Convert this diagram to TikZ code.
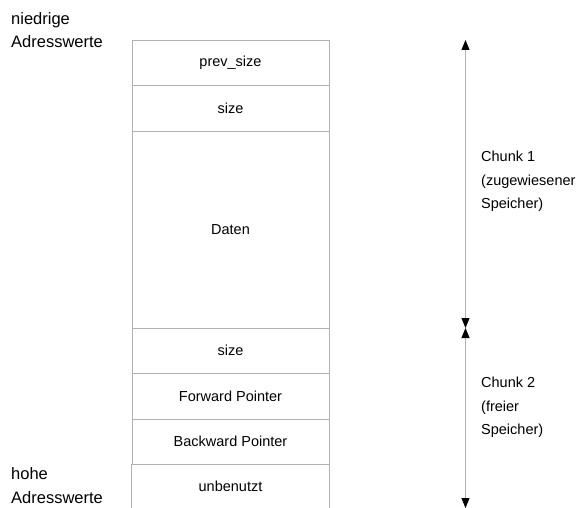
\documentclass[tikz,border=0pt]{standalone}
\usepackage{fontspec}
\setmainfont{Liberation Sans}
\usetikzlibrary{arrows.meta}
\begin{document}
\begin{tikzpicture}[x=1pt,y=-1pt,
  cell/.style={draw=black!30, line width=0.8pt, minimum width=197pt, inner sep=0pt,
               font=\fontsize{14.5}{17}\selectfont},
  sidelabel/.style={anchor=base west, align=left, inner sep=0pt,
               font=\fontsize{16.5}{23.5}\selectfont},
  chunklabel/.style={anchor=north west, align=left, inner sep=0pt,
               font=\fontsize{14.5}{23.5}\selectfont},
  span/.style={draw=black!30, line width=0.8pt,
               {Triangle[length=10pt,width=8pt,color=black]}-{Triangle[length=10pt,width=8pt,color=black]}}]
\useasboundingbox (0,0) rectangle (579,508);

% memory cells, top to bottom
\node[cell, minimum height=45pt]  (prev) at (230.5,62.5)  {prev\_size};
\node[cell, minimum height=46pt]  (sz1)  at (230.5,108)   {size};
\node[cell, minimum height=197pt] (data) at (230.5,229.5) {Daten};
\node[cell, minimum height=45pt]  (sz2)  at (230.5,350.5) {size};
\node[cell, minimum height=46pt]  (fwd)  at (230.5,396)   {Forward Pointer};
\node[cell, minimum height=45pt]  (bwd)  at (230.5,441.5) {Backward Pointer};
% last cell runs off the bottom edge: only its sides are drawn
\node[cell, draw=none, minimum height=44pt] (unused) at (230.5,486) {unbenutzt};
\draw[black!30, line width=0.8pt] (unused.north west) -- (unused.south west)
                                  (unused.north east) -- (unused.south east);

% address direction labels (anchored at the baseline of the last line)
\node[sidelabel] (low)  at (11,48)  {niedrige\\Adresswerte};
\node[sidelabel] (high) at (11,503) {hohe\\Adresswerte};

% chunk extents
\coordinate (c1top) at (465.5,40);
\coordinate (cmid)  at (465.5,328);
\coordinate (c2bot) at (465.5,508);
\draw[span] (c1top) -- (cmid);
\draw[span] (cmid) -- (c2bot);

\node[chunklabel] (chunk1) at (481,151) {Chunk 1\\(zugewiesener\\Speicher)};
\node[chunklabel] (chunk2) at (481,377) {Chunk 2\\(freier\\Speicher)};
\end{tikzpicture}
\end{document}
